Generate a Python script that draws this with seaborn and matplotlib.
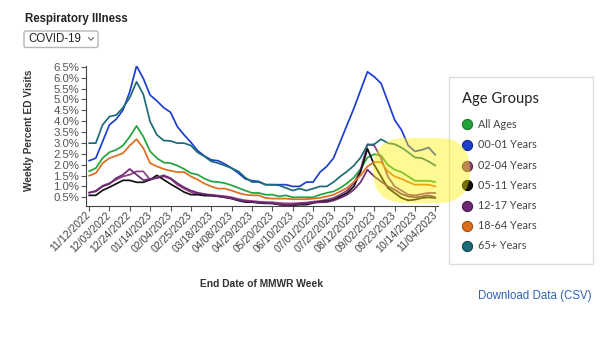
import matplotlib
matplotlib.use("Agg")
import matplotlib.pyplot as plt
import numpy as np
import pandas as pd
import seaborn as sns
from matplotlib.patches import FancyBboxPatch, Rectangle
from matplotlib.lines import Line2D
from matplotlib.transforms import IdentityTransform

# ---- data -------------------------------------------------------------
week_end = pd.date_range("2022-11-12", periods=52, freq="7D")

groups = ["All Ages", "00-01 Years", "02-04 Years", "05-11 Years",
          "12-17 Years", "18-64 Years", "65+ Years"]
colors = ["#22a33c", "#1c3fcc", "#8f3f86", "#111111",
          "#6c2a74", "#dd6e1f", "#1d6b78"]

all_ages = [1.69, 1.84, 2.30, 2.57, 2.68, 2.88, 3.29, 3.78, 3.29, 2.61, 2.30, 2.10, 2.07, 1.96, 1.80, 1.61, 1.54, 1.36,
            1.23, 1.20, 1.15, 1.05, 0.93, 0.81, 0.70, 0.70, 0.62, 0.62, 0.54, 0.59, 0.50, 0.50, 0.50, 0.50, 0.62,
            0.70, 0.77, 0.93, 1.15, 1.41, 1.81, 2.33, 2.48, 2.42, 1.99, 1.77, 1.66, 1.46, 1.26, 1.26, 1.26, 1.20]
age_00_01 = [2.18, 2.30, 3.06, 3.83, 4.09, 4.51, 5.35, 6.54, 5.96, 5.20, 4.93, 4.62, 4.41, 3.75, 3.37, 3.03, 2.64, 2.40,
             2.22, 2.18, 2.03, 1.84, 1.61, 1.35, 1.26, 1.23, 1.08, 1.08, 1.08, 1.08, 1.00, 1.00, 1.20, 1.20, 1.65,
             1.92, 2.30, 3.06, 3.83, 4.59, 5.43, 6.27, 6.04, 5.74, 4.90, 4.06, 3.60, 2.88, 2.61, 2.68, 2.79, 2.45]
age_02_04 = [0.70, 0.80, 1.03, 1.15, 1.31, 1.46, 1.54, 1.69, 1.69, 1.31, 1.38, 1.46, 1.35, 1.08, 0.90, 0.74, 0.65, 0.62,
             0.62, 0.58, 0.55, 0.50, 0.42, 0.36, 0.33, 0.30, 0.28, 0.27, 0.24, 0.22, 0.22, 0.24, 0.26, 0.30, 0.33,
             0.39, 0.47, 0.62, 0.81, 1.15, 1.77, 2.94, 2.88, 2.30, 1.46, 1.00, 0.81, 0.62, 0.59, 0.65, 0.70, 0.70]
age_05_11 = [0.59, 0.59, 0.82, 0.96, 1.12, 1.28, 1.28, 1.19, 1.19, 1.31, 1.51, 1.31, 1.11, 0.93, 0.74, 0.62, 0.62, 0.58,
             0.57, 0.54, 0.50, 0.44, 0.35, 0.28, 0.28, 0.24, 0.22, 0.22, 0.16, 0.13, 0.13, 0.16, 0.16, 0.24, 0.30,
             0.32, 0.39, 0.54, 0.70, 1.00, 1.69, 2.73, 1.99, 1.46, 0.93, 0.70, 0.47, 0.36, 0.39, 0.47, 0.50, 0.47]
age_12_17 = [0.72, 0.77, 1.00, 1.11, 1.38, 1.54, 1.80, 1.54, 1.29, 1.34, 1.41, 1.51, 1.38, 1.15, 0.96, 0.81, 0.71, 0.65,
             0.60, 0.55, 0.50, 0.45, 0.38, 0.32, 0.30, 0.26, 0.24, 0.22, 0.18, 0.15, 0.16, 0.20, 0.22, 0.26, 0.27,
             0.28, 0.35, 0.47, 0.62, 0.85, 1.20, 1.77, 1.46, 1.23, 1.00, 0.85, 0.65, 0.54, 0.50, 0.54, 0.59, 0.50]
age_18_64 = [1.49, 1.61, 2.07, 2.30, 2.41, 2.53, 2.88, 3.17, 2.76, 2.07, 1.92, 1.80, 1.72, 1.66, 1.66, 1.46, 1.31, 1.13,
             1.00, 0.90, 0.90, 0.81, 0.70, 0.62, 0.59, 0.59, 0.47, 0.44, 0.44, 0.44, 0.41, 0.41, 0.41, 0.44, 0.47,
             0.54, 0.62, 0.77, 0.93, 1.20, 1.51, 1.92, 2.12, 2.12, 1.69, 1.46, 1.35, 1.20, 1.08, 1.08, 1.08, 1.00]
age_65_plus = [2.99, 2.99, 3.83, 4.21, 4.28, 4.62, 5.08, 5.81, 5.23, 3.98, 3.37, 3.11, 3.09, 2.99, 2.99, 2.88, 2.56, 2.38,
               2.15, 2.07, 1.96, 1.84, 1.69, 1.41, 1.20, 1.20, 1.08, 1.08, 1.05, 0.93, 0.81, 0.90, 0.81, 0.90, 1.00,
               1.00, 1.20, 1.46, 1.69, 1.96, 2.33, 2.91, 2.94, 3.17, 2.99, 2.94, 2.79, 2.57, 2.33, 2.30, 2.15, 1.96]

x_tick_labels = ["11/12/2022", "12/03/2022", "12/24/2022", "01/14/2023", "02/04/2023", "02/25/2023",
                 "03/18/2023", "04/08/2023", "04/29/2023", "05/20/2023", "06/10/2023", "07/01/2023",
                 "07/22/2023", "08/12/2023", "09/02/2023", "09/23/2023", "10/14/2023", "11/04/2023"]
y_tick_values = [0.5, 1.0, 1.5, 2.0, 2.5, 3.0, 3.5, 4.0, 4.5, 5.0, 5.5, 6.0, 6.5]
y_tick_labels = ["0.5%", "1.0%", "1.5%", "2.0%", "2.5%", "3.0%", "3.5%",
                 "4.0%", "4.5%", "5.0%", "5.5%", "6.0%", "6.5%"]

series = [all_ages, age_00_01, age_02_04, age_05_11, age_12_17, age_18_64, age_65_plus]
long = pd.concat(
    [pd.DataFrame({"week_end": week_end, "pct": vals, "group": g}) for g, vals in zip(groups, series)],
    ignore_index=True,
)

# ---- figure -----------------------------------------------------------
sns.set_theme(style="white")
plt.rcParams["font.family"] = ["Liberation Sans", "DejaVu Sans"]

W, H = 600, 340
fig = plt.figure(figsize=(W / 100, H / 100), dpi=100)


def fx(x):
    return x / W


def fy(y):
    return 1 - y / H


ax = fig.add_axes([fx(86), fy(206), (438 - 86) / W, (206 - 65.7) / H])
sns.lineplot(data=long, x="week_end", y="pct", hue="group", hue_order=groups,
             palette=colors, linewidth=1.25, legend=False, errorbar=None, ax=ax)

ax.set_xlim(week_end[0] - pd.Timedelta(days=3.1), week_end[-1] + pd.Timedelta(days=2.7))
ax.set_ylim(0.10, 6.55)
ax.set_xlabel("")
ax.set_ylabel("")

ax.set_xticks(week_end[::3])
ax.set_xticklabels(x_tick_labels, rotation=45, ha="right", va="center",
                   rotation_mode="anchor", fontsize=7.6, color="#444444")
ax.set_yticks(y_tick_values)
ax.set_yticklabels(y_tick_labels, fontsize=8.2, color="#555555")
ax.tick_params(axis="both", bottom=True, left=True, direction="out",
               length=3.3, width=0.8, color="#555555")
ax.tick_params(axis="x", pad=2)
ax.tick_params(axis="y", pad=1.5)
for side in ("top", "right"):
    ax.spines[side].set_visible(False)
for side in ("left", "bottom"):
    ax.spines[side].set_color("#444444")
    ax.spines[side].set_linewidth(0.8)

fig.text(fx(29), fy(130), "Weekly Percent ED Visits", rotation=90, ha="center", va="center",
         fontsize=7.3, fontweight="bold", color="#333333")
fig.text(fx(262), fy(284), "End Date of MMWR Week", ha="center", va="center",
         fontsize=7.4, fontweight="bold", color="#333333")

# ---- header: title and selector ----------------------------------------
fig.text(fx(25), fy(19), "Respiratory Illness", ha="left", va="center",
         fontsize=8.3, fontweight="bold", color="#222222")
fig.add_artist(FancyBboxPatch((24, H - 47.5), 74, 16.5,
                              boxstyle="round,pad=0,rounding_size=2",
                              transform=IdentityTransform(), facecolor="white",
                              edgecolor="#b5b5b5", linewidth=1.0))
fig.text(fx(28.3), fy(39.5), "COVID-19", ha="left", va="center",
         fontsize=8.3, color="#222222")
fig.add_artist(Line2D([88.5, 91, 93.5], [H - 37.5, H - 40.3, H - 37.5],
                      transform=IdentityTransform(), color="#666666", linewidth=0.8))

# ---- legend panel -----------------------------------------------------
fig.add_artist(Rectangle((449, H - 264), 143.5, 186.7, transform=IdentityTransform(),
                         facecolor="white", edgecolor="#dddddd", linewidth=1.0))
fig.text(fx(461.5), fy(99), "Age Groups", ha="left", va="center",
         fontsize=10.6, color="#222222", family=["Lato", "DejaVu Sans"])
legend_y = [124, 145, 165.5, 185.5, 205.5, 225.5, 245.5]
edge_cols = ["#157a2b", "#10298f", "#5e2858", "#000000", "#47184d", "#a44c10", "#0f4a54"]
for g, c, ec, yy in zip(groups, colors, edge_cols, legend_y):
    fig.add_artist(Line2D([fx(466.5)], [fy(yy)], transform=fig.transFigure, marker="o",
                          markersize=7.3, markerfacecolor=c, markeredgecolor=ec,
                          markeredgewidth=0.8, linestyle="none"))
    fig.text(fx(478.5), fy(yy), g, ha="left", va="center", fontsize=7.8,
             color="#444444", family=["Lato", "DejaVu Sans"])

fig.text(fx(478), fy(296), "Download Data (CSV)", ha="left", va="center",
         fontsize=8.3, color="#2f62b8")

# ---- highlighter mark over the latest weeks ----------------------------
fig.add_artist(FancyBboxPatch((373, H - 203), 97, 65,
                              boxstyle="round,pad=0,rounding_size=32",
                              transform=IdentityTransform(), facecolor="#fff200",
                              edgecolor="none", alpha=0.42, zorder=10))

fig.savefig("out.png", dpi=100)
